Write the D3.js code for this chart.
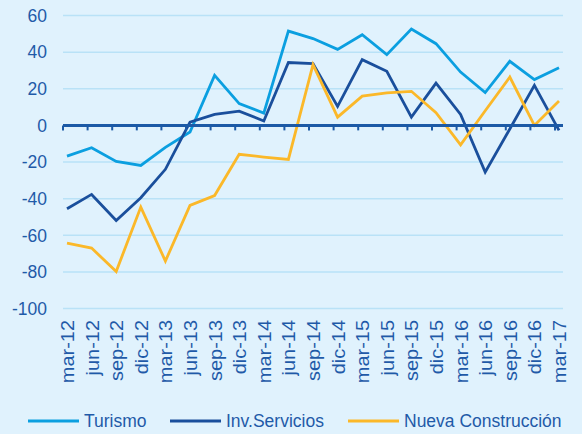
<!DOCTYPE html>
<html>
<head>
<meta charset="utf-8">
<script src="https://cdn.jsdelivr.net/npm/d3@7"></script>
<style>
html, body { margin: 0; padding: 0; background: #e0f2fd; }
svg { display: block; font-family: "Liberation Sans", Arial, sans-serif; }
.grid line { stroke: #b9e2f7; stroke-width: 1.5; }
.lbl { fill: #1f5aa8; font-size: 17.5px; }
</style>
</head>
<body>
<div id="chart"></div>
<script>
var categories = ["mar-12","jun-12","sep-12","dic-12","mar-13","jun-13","sep-13","dic-13","mar-14","jun-14","sep-14","dic-14","mar-15","jun-15","sep-15","dic-15","mar-16","jun-16","sep-16","dic-16","mar-17"];
var turismo = [-16.8,-12.2,-19.7,-21.9,-12,-3.6,27.3,11.9,6.7,51.5,47.4,41.5,49.5,38.6,52.6,44.6,29.1,17.9,35,25,31.5];
var invServicios = [-45.5,-37.7,-51.9,-39.5,-24,1.8,6,7.8,2.4,34.3,33.7,10.4,35.9,29.5,4.5,23.1,6,-25.5,-2,21.9,-2.7];
var nuevaConstruccion = [-64.3,-67,-79.8,-44.6,-74.1,-43.7,-38.3,-15.8,-17.3,-18.6,33.2,4.5,16,17.7,18.6,6.9,-10.6,8,26.4,0,13.3];
var yTicks = [60,40,20,0,-20,-40,-60,-80,-100];
var seriesNames = ["Turismo","Inv.Servicios","Nueva Construcción"];
var seriesColors = ["#0b9fe0","#1a4f9c","#fbb829"];

var W = 582, H = 434;
var svg = d3.select("#chart").append("svg").attr("width", W).attr("height", H);

var x = d3.scalePoint().domain(categories).range([67, 559]);
var y = d3.scaleLinear().domain([-100, 60]).range([308.5, 15.5]);
var gridL = 63, gridR = 563;

// gridlines
svg.append("g").attr("class", "grid").selectAll("line").data(yTicks.filter(function(v){ return v !== 0; }))
	.enter().append("line")
	.attr("x1", gridL).attr("x2", gridR)
	.attr("y1", function(d){ return y(d); }).attr("y2", function(d){ return y(d); });

// y labels
svg.append("g").selectAll("text").data(yTicks).enter().append("text")
	.attr("class", "lbl")
	.attr("x", 47).attr("y", function(d){ return y(d); })
	.attr("dy", "0.36em").attr("text-anchor", "end")
	.text(function(d){ return d; });

// x labels, rotated (stretched along their length like the original)
svg.append("g").selectAll("text").data(categories).enter().append("text")
	.attr("class", "lbl")
	.attr("transform", function(d){ return "translate(" + (x(d) + 7) + ",320) scale(1,1.14) rotate(-90)"; })
	.attr("text-anchor", "end")
	.text(function(d){ return d; });

// series lines
var line = d3.line().x(function(d, i){ return x(categories[i]); }).y(function(d){ return y(d); });
[turismo, invServicios, nuevaConstruccion].forEach(function(vals, i){
	svg.append("path").datum(vals)
		.attr("fill", "none")
		.attr("stroke", seriesColors[i])
		.attr("stroke-width", 2.8)
		.attr("stroke-linejoin", "miter")
		.attr("d", line);
});

// zero axis with ticks
var axisG = svg.append("g");
axisG.append("line")
	.attr("x1", gridL).attr("x2", gridR)
	.attr("y1", y(0)).attr("y2", y(0))
	.attr("stroke", "#1c5aa6").attr("stroke-width", 3);
axisG.selectAll(".tk").data(categories).enter().append("line")
	.attr("x1", function(d){ return x(d) - 4; }).attr("x2", function(d){ return x(d) - 4; })
	.attr("y1", y(0)).attr("y2", y(0) + 5)
	.attr("stroke", "#1c5aa6").attr("stroke-width", 2);

// legend
var legendX = [28, 170, 348];
var lg = svg.append("g").selectAll("g").data(seriesNames).enter().append("g")
	.attr("transform", function(d, i){ return "translate(" + legendX[i] + ",421)"; });
lg.append("line").attr("x1", 0).attr("x2", 51).attr("y1", 0).attr("y2", 0)
	.attr("stroke", function(d, i){ return seriesColors[i]; }).attr("stroke-width", 2.8);
lg.append("text").attr("class", "lbl").attr("x", 56).attr("dy", "0.36em")
	.text(function(d){ return d; });
</script>
</body>
</html>
